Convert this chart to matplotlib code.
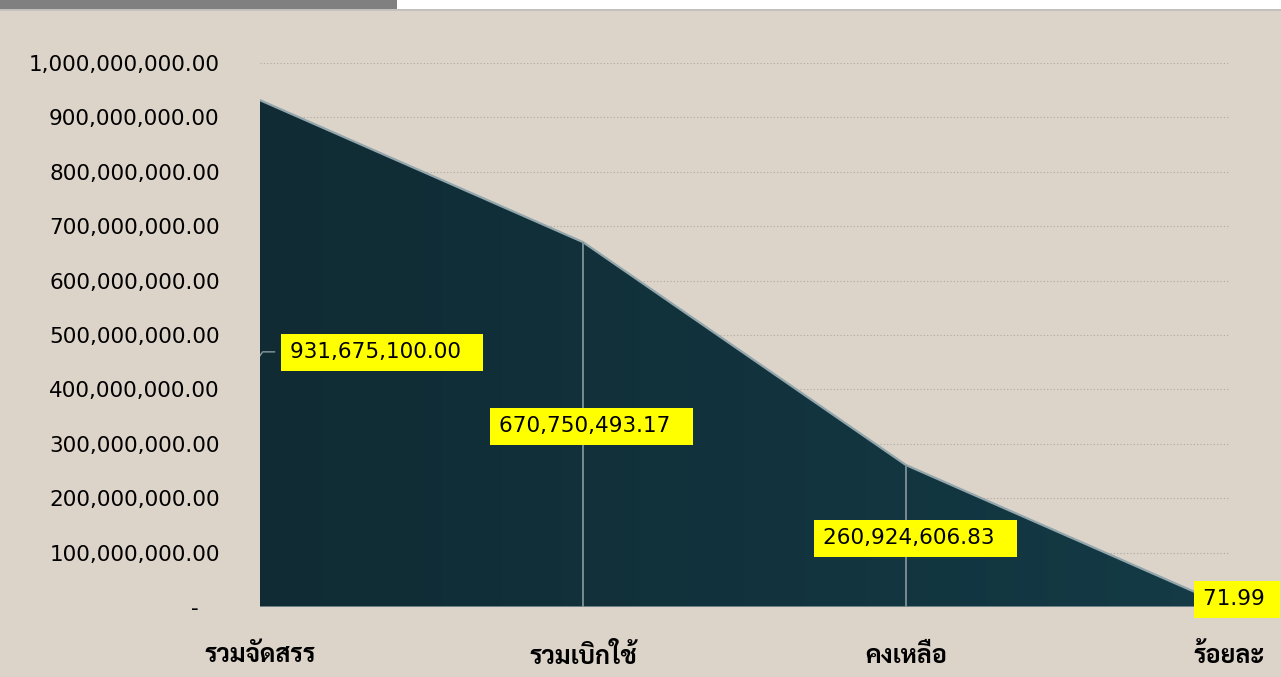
import matplotlib
matplotlib.use("Agg")
import matplotlib.pyplot as plt
from matplotlib.ticker import FuncFormatter
from matplotlib.patches import Rectangle
import numpy as np

categories = ["รวมจัดสรร", "รวมเบิกใช้", "คงเหลือ", "ร้อยละ"]
values = [931675100.00, 670750493.17, 260924606.83, 71.99]
value_labels = ["931,675,100.00", "670,750,493.17", "260,924,606.83", "71.99"]
y_ticks = np.arange(0, 1000000001, 100000000)

bg = "#DCD3C9"
plt.rcParams["font.family"] = ["DejaVu Sans"]

fig = plt.figure(figsize=(12.81, 6.77), dpi=100)
fig.patch.set_facecolor(bg)

# strip along the top
fig.add_artist(Rectangle((0, 1 - 9 / 677), 397 / 1281, 9 / 677, transform=fig.transFigure,
                         color="#808080", lw=0))
fig.add_artist(Rectangle((397 / 1281, 1 - 9 / 677), 1 - 397 / 1281, 9 / 677, transform=fig.transFigure,
                         color="#FFFFFF", lw=0))
fig.add_artist(Rectangle((0, 1 - 11 / 677), 1, 2 / 677, transform=fig.transFigure,
                         color="#C4C0BC", lw=0))

ax = fig.add_axes([260 / 1281, 70 / 677, 969 / 1281, 544 / 677])
ax.set_facecolor(bg)
x = np.arange(len(categories))

ax.set_xlim(0, 3)
ax.set_ylim(0, 1000000000)
ax.set_yticks(y_ticks)
ax.yaxis.set_major_formatter(FuncFormatter(lambda v, p: "-   " if v == 0 else f"{v:,.2f}"))
ax.grid(axis="y", color="#B0A89F", linestyle=(0, (1, 2)), linewidth=0.8)
ax.set_axisbelow(True)

# area with a soft left-to-right gradient
poly = ax.fill_between(x, values, 0, color="none", zorder=2)
grad = np.linspace(0, 1, 256).reshape(1, -1)
cmap = matplotlib.colors.LinearSegmentedColormap.from_list("g", ["#102B34", "#143B46"])
img = ax.imshow(grad, extent=[0, 3, 0, 1000000000], aspect="auto", cmap=cmap, zorder=2)
img.set_clip_path(poly.get_paths()[0], transform=ax.transData)
ax.plot(x, values, color="#93A6AC", lw=1.6, zorder=3)
ax.vlines(x[1:3], 0, values[1:3], color="#7F9297", lw=1.3, zorder=3)
ax.axhline(0, color="#7F9297", lw=1.2, zorder=3)

# leader line for the first label
ax.plot([0.0, 0.008, 0.045], [462000000, 469000000, 469000000], color="#8A9A9E", lw=1, zorder=4)

label_pos = [(0.093, 468000000), (0.74, 332000000), (1.743, 126000000), (2.918, 14000000)]
for (lx, ly), txt in zip(label_pos, value_labels):
    ax.text(lx, ly, txt + ("  " if len(txt) > 6 else " "), fontsize=15.5, color="black", va="center",
            ha="left", zorder=5, clip_on=False,
            bbox=dict(boxstyle="square,pad=0.4", fc="#FFFF00", ec="none"))

ax.set_xticks(x)
ax.set_xticklabels(categories, fontsize=18, fontweight="bold",
                   family=["Sarabun", "Niramit", "Noto Sans Thai", "DejaVu Sans"])
ax.tick_params(axis="x", length=0, pad=27)
ax.tick_params(axis="y", length=0, pad=29, labelsize=15.5)
for s in ax.spines.values():
    s.set_visible(False)

fig.savefig("out.png", dpi=100, facecolor=bg)
